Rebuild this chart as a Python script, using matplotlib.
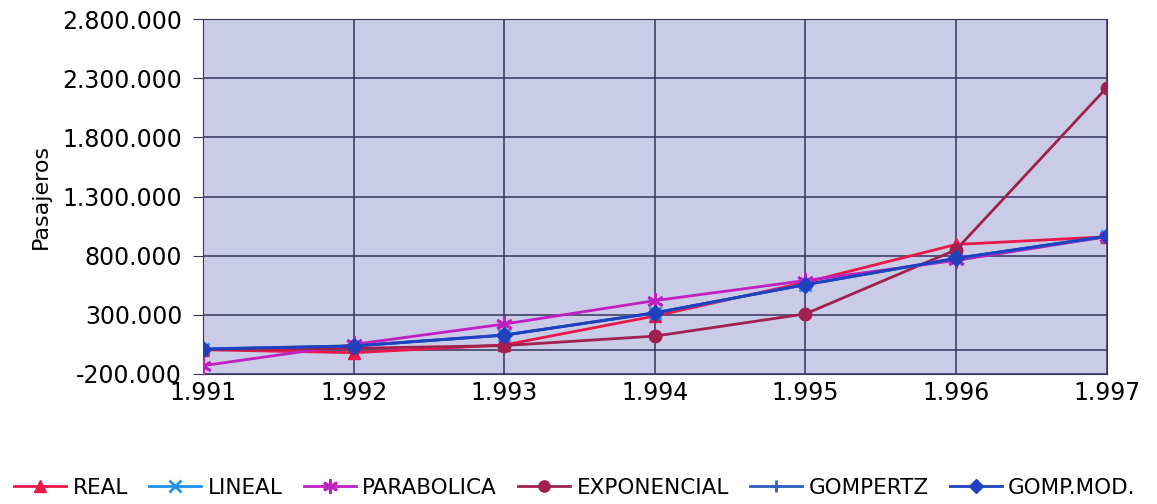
import matplotlib
matplotlib.use("Agg")
import matplotlib.pyplot as plt
from matplotlib.ticker import FuncFormatter

years = [1991, 1992, 1993, 1994, 1995, 1996, 1997]
year_labels = ["1.991", "1.992", "1.993", "1.994", "1.995", "1.996", "1.997"]

real = [5000, -20000, 45000, 290000, 575000, 895000, 960000]
lineal = [10000, 35000, 128000, 316000, 556000, 778000, 963000]
parabolica = [-130000, 50000, 222000, 420000, 590000, 760000, 960000]
exponencial = [6000, 17000, 40000, 120000, 308000, 850000, 2220000]
gompertz = [12000, 38000, 130000, 318000, 554000, 775000, 962000]
gomp_mod = [10000, 36000, 128000, 316000, 556000, 778000, 965000]

series = [
    ("REAL", real, "#E8184A", "^", 9),
    ("LINEAL", lineal, "#2090E8", "x", 9),
    ("PARABOLICA", parabolica, "#C020C0", (6, 2, 0), 12),
    ("EXPONENCIAL", exponencial, "#A02050", "o", 9),
    ("GOMPERTZ", gompertz, "#3060C0", "+", 10),
    ("GOMP.MOD.", gomp_mod, "#2040C0", "D", 8),
]

fig = plt.figure(figsize=(11.57, 5.04), dpi=100)
ax = fig.add_axes([0.1755, 0.258, 0.781, 0.704])
ax.set_facecolor("#CACBE7")

for name, vals, col, mk, ms in series:
    ax.plot(years, vals, color=col, marker=mk, markersize=ms, lw=2.0,
            markeredgewidth=2 if mk in ("x", "+", (6, 2, 0)) else 1,
            markeredgecolor=col, label=name, zorder=3)

ax.set_xlim(1991, 1997)
ax.set_ylim(-200000, 2800000)
ax.set_yticks(range(-200000, 2800001, 500000))
ax.yaxis.set_major_formatter(FuncFormatter(lambda v, p: f"{int(v):,}".replace(",", ".")))
ax.set_xticks(years)
ax.set_xticklabels(year_labels)
ax.grid(True, color="#34345E", lw=1.1, zorder=1)
ax.axhline(0, color="#34345E", lw=1.1, zorder=1)
ax.set_axisbelow(True)
for s in ax.spines.values():
    s.set_color("#34345E")
ax.tick_params(axis="y", length=7, color="#34345E", labelsize=17, pad=8)
ax.tick_params(axis="x", length=0, labelsize=17, pad=5)
ax.set_ylabel("Pasajeros", fontsize=16, labelpad=8)

fig.legend(loc="center", bbox_to_anchor=(0.497, 0.032), ncol=6, frameon=False,
           fontsize=15.5, handlelength=2.4, handletextpad=0.3, columnspacing=1.0,
           markerscale=0.9)

fig.savefig("out.png", dpi=100)
